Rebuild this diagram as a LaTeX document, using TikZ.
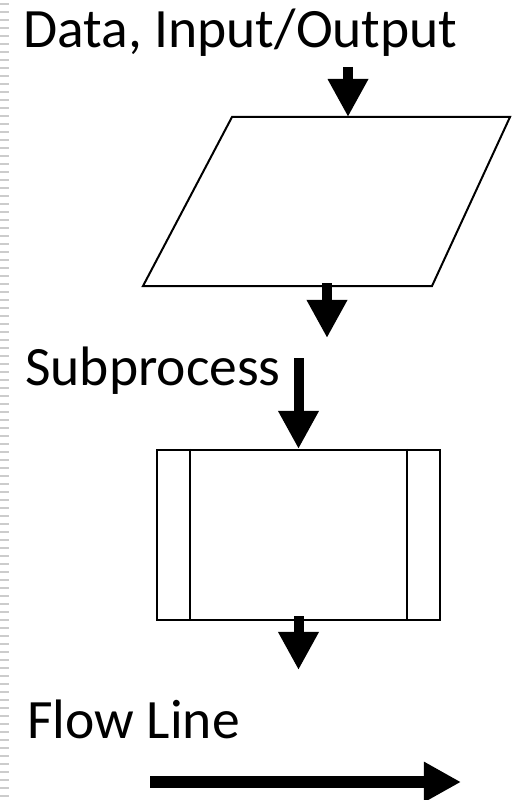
\documentclass[tikz,border=0pt]{standalone}
\usepackage{fontspec}
\setmainfont{Carlito}
\usetikzlibrary{arrows.meta}
\tikzset{
  flecha/.style={line width=0.25cm,-{Triangle[width=0.95cm,length=0.95cm]}},
  caja/.style={draw,line width=0.05cm},
  titulo/.style={anchor=base west,inner sep=0pt,font=\fontsize{39.5}{42}\selectfont}
}
\begin{document}
\begin{tikzpicture}[x=0.025cm,y=-0.025cm]
    \useasboundingbox (0,0) rectangle (520,800);
    \foreach \y in {4,12,...,796}
        \draw[gray!40,line width=0.05cm] (0,\y) -- (9,\y);
    \node[titulo] at (23,48) (datos) {Data, Input/Output};
    \coordinate (d1) at (348,67);
    \coordinate (entrada) at (348,117);
    \draw[caja] (232,117) -- (510,117) -- (432,286) -- (143,286) -- cycle;
    \draw[flecha] (d1) -- (entrada);
    \coordinate (d2) at (327,283);
    \coordinate (d3) at (327,338);
    \draw[flecha] (d2) -- (d3);
    \node[titulo] at (25,385) (subproc) {Subprocess};
    \node[caja,minimum width=7.05cm,minimum height=4.25cm,inner sep=0pt] at (298.5,535) (sub) {};
    \draw[caja] ([xshift=0.85cm]sub.north west) -- ([xshift=0.85cm]sub.south west);
    \draw[caja] ([xshift=-0.85cm]sub.north east) -- ([xshift=-0.85cm]sub.south east);
    \coordinate (s1) at (298.5,358);
    \draw[flecha] (s1) -- (sub.north);
    \coordinate (s2) at (298.5,616);
    \coordinate (s3) at (298.5,670);
    \draw[flecha] (s2) -- (s3);
    \node[titulo] at (27,738) (flujo) {Flow Line};
    \coordinate (f1) at (150,782);
    \coordinate (f2) at (461,782);
    \draw[line width=0.3cm,-{Triangle[width=0.95cm,length=0.93cm]}] (f1) -- (f2);
\end{tikzpicture}
\end{document}
